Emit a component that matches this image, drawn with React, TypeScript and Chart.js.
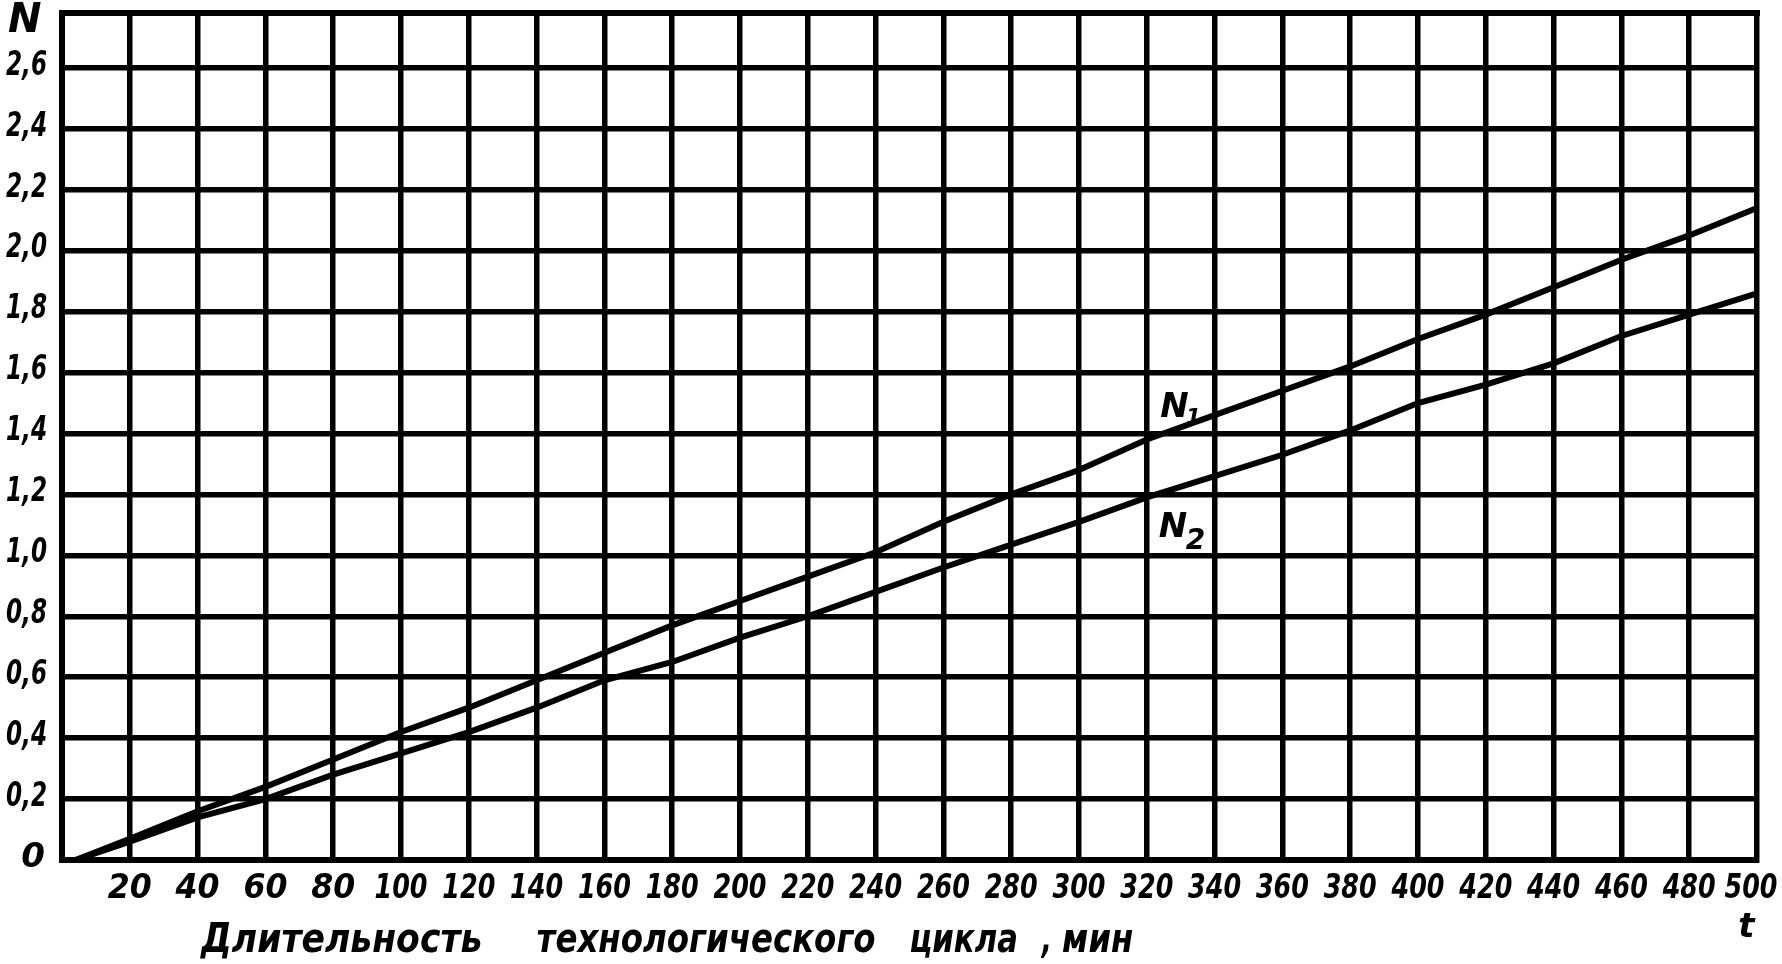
import { useEffect, useRef } from 'react';
import { Chart, registerables } from 'chart.js';

Chart.register(...registerables);

// t, мин
const timeTicks = [0, 20, 40, 60, 80, 100, 120, 140, 160, 180, 200, 220, 240, 260, 280, 300, 320, 340, 360, 380, 400, 420, 440, 460, 480, 500];
// N
const nTicks = [0, 0.2, 0.4, 0.6, 0.8, 1.0, 1.2, 1.4, 1.6, 1.8, 2.0, 2.2, 2.4, 2.6];
const nTickLabels = ['0', '0,2', '0,4', '0,6', '0,8', '1,0', '1,2', '1,4', '1,6', '1,8', '2,0', '2,2', '2,4', '2,6'];

const curveTimes = [4, 20, 40, 60, 80, 100, 120, 140, 160, 180, 200, 220, 240, 260, 280, 300, 320, 340, 360, 380, 400, 420, 440, 460, 480, 500];
const n1Values = [0, 0.07, 0.16, 0.24, 0.33, 0.42, 0.5, 0.59, 0.68, 0.77, 0.85, 0.93, 1.01, 1.11, 1.2, 1.28, 1.38, 1.46, 1.54, 1.62, 1.71, 1.79, 1.88, 1.97, 2.05, 2.14];
const n2Values = [0, 0.06, 0.14, 0.2, 0.28, 0.35, 0.42, 0.5, 0.59, 0.65, 0.73, 0.8, 0.88, 0.96, 1.035, 1.11, 1.19, 1.26, 1.33, 1.41, 1.5, 1.56, 1.63, 1.72, 1.79, 1.86];

const xTitleWords = [
	{ text: 'Длительность', from: 41, to: 124 },
	{ text: 'технологического', from: 140, to: 240 },
	{ text: 'цикла', from: 250, to: 282 },
	{ text: ',', from: 289, to: 292 },
	{ text: 'мин', from: 295, to: 316 },
];

const FAMILY = '"DejaVu Sans", sans-serif';
const font = (size: number) => `italic bold ${size}px ${FAMILY}`;

// рисует текст, сжатый по ширине между x0 и x1
function fitText(ctx: CanvasRenderingContext2D, text: string, x0: number, x1: number, y: number) {
	const w = ctx.measureText(text).width;
	const k = w > 0 ? (x1 - x0) / w : 1;
	ctx.save();
	ctx.translate(x0, y);
	ctx.scale(k, 1);
	ctx.fillText(text, 0, 0);
	ctx.restore();
}

const labelsPlugin = {
	id: 'labels',
	afterDraw(chart: Chart) {
		const { ctx, chartArea, scales } = chart;
		const x = scales.x;
		const y = scales.y;
		ctx.save();
		ctx.strokeStyle = '#000';
		ctx.lineWidth = 6;
		ctx.beginPath();
		ctx.moveTo(chartArea.left - 3, chartArea.top);
		ctx.lineTo(chartArea.right + 3, chartArea.top);
		ctx.stroke();

		ctx.fillStyle = '#000';
		ctx.textAlign = 'left';

		// подписи оси N
		ctx.textBaseline = 'middle';
		ctx.font = font(34);
		nTicks.forEach((v, i) => {
			const text = nTickLabels[i];
			const py = y.getPixelForValue(v) - 2;
			if (text.length === 1) {
				const w = ctx.measureText(text).width;
				ctx.fillText(text, chartArea.left - 17 - w, py);
			} else {
				fitText(ctx, text, chartArea.left - 56, chartArea.left - 15, py);
			}
		});

		// подписи оси t
		ctx.textBaseline = 'alphabetic';
		ctx.font = font(34);
		timeTicks.forEach((v) => {
			if (v === 0) return;
			const text = String(v);
			const w = text.length === 2 ? 44 : 53;
			const cx = x.getPixelForValue(v) - (v === 500 ? 6 : 0);
			fitText(ctx, text, cx - w / 2, cx + w / 2, chartArea.bottom + 38);
		});

		ctx.font = font(40);
		ctx.fillText('N', 8, chartArea.top + 19);

		ctx.font = font(34);
		ctx.fillText('t', x.getPixelForValue(494.5), chartArea.bottom + 77);

		ctx.font = font(34);
		ctx.fillText('N', x.getPixelForValue(324), y.getPixelForValue(1.454));
		ctx.fillText('N', x.getPixelForValue(323.5), y.getPixelForValue(1.06));
		ctx.font = font(22);
		ctx.fillText('1', x.getPixelForValue(331.5), y.getPixelForValue(1.43));
		ctx.font = font(28);
		ctx.fillText('2', x.getPixelForValue(331.5), y.getPixelForValue(1.02));

		ctx.font = font(40);
		for (const w of xTitleWords) {
			fitText(ctx, w.text, x.getPixelForValue(w.from), x.getPixelForValue(w.to), chartArea.bottom + 92);
		}
		ctx.restore();
	},
};

function DurationChart() {
	const chartRef = useRef<HTMLCanvasElement | null>(null);

	useEffect(() => {
		if (!chartRef.current) return;
		document.body.style.margin = '0';

		const lineStyle = {
			borderColor: '#000',
			borderWidth: 6,
			pointRadius: 0,
			tension: 0,
			fill: false,
		};

		const chart = new Chart(chartRef.current, {
			type: 'line',
			data: {
				datasets: [
					{ label: 'N1', data: curveTimes.map((t, i) => ({ x: t, y: n1Values[i] })), ...lineStyle },
					{ label: 'N2', data: curveTimes.map((t, i) => ({ x: t, y: n2Values[i] })), ...lineStyle },
				],
			},
			options: {
				responsive: false,
				animation: false,
				devicePixelRatio: 1,
				layout: { padding: { top: 13, right: 25, left: 0, bottom: 0 } },
				plugins: {
					legend: { display: false },
					tooltip: { enabled: false },
				},
				scales: {
					x: {
						type: 'linear',
						min: 0,
						max: 500,
						afterBuildTicks: (scale: any) => {
							scale.ticks = timeTicks.map((v) => ({ value: v }));
						},
						afterFit: (scale: any) => {
							scale.height = 104;
							scale.paddingLeft = 0;
							scale.paddingRight = 0;
						},
						grid: { color: '#000', lineWidth: 5.5, drawTicks: false },
						border: { display: true, color: '#000', width: 6 },
						ticks: { display: false },
					},
					y: {
						type: 'linear',
						min: 0,
						max: 2.78,
						afterBuildTicks: (scale: any) => {
							scale.ticks = nTicks.map((v) => ({ value: v }));
						},
						afterFit: (scale: any) => {
							scale.width = 62;
							scale.paddingTop = 0;
							scale.paddingBottom = 0;
						},
						grid: { color: '#000', lineWidth: 5.5, drawTicks: false },
						border: { display: true, color: '#000', width: 6 },
						ticks: { display: false },
					},
				},
			},
			plugins: [labelsPlugin],
		});

		return () => {
			chart.destroy();
		};
	}, []);

	return (
		<div style={{ position: 'fixed', left: 0, top: 0, width: 1782, height: 964, background: '#fff' }}>
			<canvas ref={chartRef} width={1782} height={964}></canvas>
		</div>
	);
}

export default function App() {
	return <DurationChart />;
}
